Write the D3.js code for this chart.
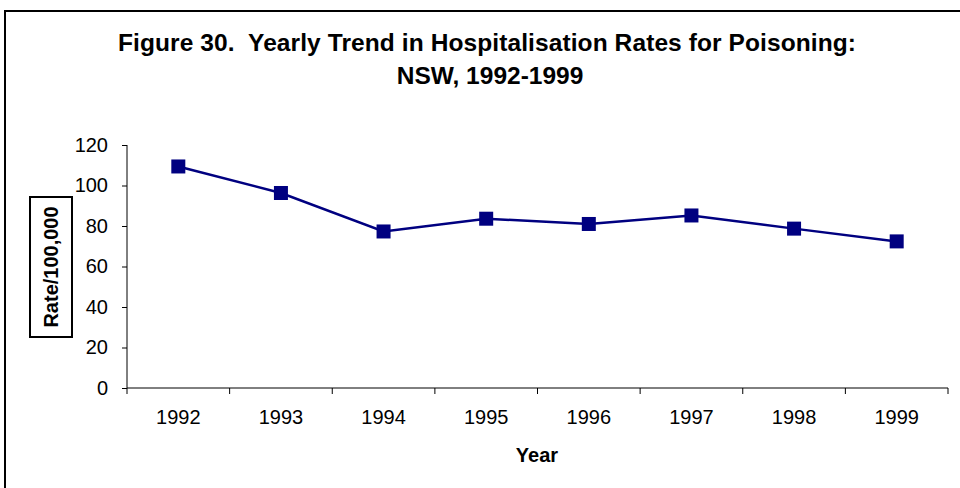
<!DOCTYPE html>
<html lang="en">
<head>
<meta charset="UTF-8">
<title>Figure 30</title>
<style>
  body { margin: 0; background: #fff; }
  text { font-family: Arial, "Liberation Sans", sans-serif; }
</style>
</head>
<body>
<script src="https://cdnjs.cloudflare.com/ajax/libs/d3/7.8.5/d3.min.js"></script>
<script>
let years = ["1992", "1993", "1994", "1995", "1996", "1997", "1998", "1999"]
let rates = [109.4, 96.3, 77.3, 83.6, 81.0, 85.2, 78.7, 72.4]
let yTicks = [0, 20, 40, 60, 80, 100, 120]

let width = 960
let height = 488

let svg = d3.select("body").append("svg")
    .attr("width", width)
    .attr("height", height)

// outer frame
svg.append("rect")
    .attr("x", 5)
    .attr("y", 11)
    .attr("width", 970)
    .attr("height", 500)
    .attr("fill", "none")
    .attr("stroke", "black")
    .attr("stroke-width", 2)

svg.append("text")
    .attr("x", 487)
    .attr("y", 51)
    .attr("text-anchor", "middle")
    .attr("font-weight", "bold")
    .attr("font-size", 24.5)
    .attr("textLength", 738)
    .style("white-space", "pre")
    .text("Figure 30.  Yearly Trend in Hospitalisation Rates for Poisoning:")

svg.append("text")
    .attr("x", 490)
    .attr("y", 84)
    .attr("text-anchor", "middle")
    .attr("font-weight", "bold")
    .attr("font-size", 24.5)
    .text("NSW, 1992-1999")

let pLeft = 127, pRight = 948, pTop = 145, pBottom = 388

let x = d3.scaleBand().domain(years).range([pLeft, pRight])
let y = d3.scaleLinear().domain([0, 120]).range([pBottom, pTop])

let xAxis = svg.append("g")
    .attr("transform", `translate(0,${pBottom})`)
    .call(d3.axisBottom(x).tickSize(0).tickPadding(22))
xAxis.select(".domain").attr("stroke", "black").attr("d", `M${pLeft},0H${pRight}`)
xAxis.selectAll("text").attr("font-size", 20).attr("fill", "black").attr("font-family", "Arial, 'Liberation Sans', sans-serif")
// category separators
xAxis.selectAll(".sep")
    .data(years.concat(["end"]))
    .join("line")
    .attr("class", "sep")
    .attr("x1", (d, i) => pLeft + x.step() * i)
    .attr("x2", (d, i) => pLeft + x.step() * i)
    .attr("y1", 0)
    .attr("y2", 6)
    .attr("stroke", "black")

let yAxis = svg.append("g")
    .attr("transform", `translate(${pLeft},0)`)
    .call(d3.axisLeft(y).tickValues(yTicks).tickSize(5).tickPadding(14))
yAxis.select(".domain").attr("d", `M0,${pTop}V${pBottom}`)
yAxis.selectAll("text").attr("font-size", 20).attr("fill", "black").attr("font-family", "Arial, 'Liberation Sans', sans-serif")

let line = d3.line()
    .x((d, i) => x(years[i]) + x.bandwidth() / 2)
    .y(d => y(d))

svg.append("path")
    .datum(rates)
    .attr("d", line)
    .attr("fill", "none")
    .attr("stroke", "#000080")
    .attr("stroke-width", 2.5)

let ms = 14
svg.selectAll(".pt")
    .data(rates)
    .join("rect")
    .attr("class", "pt")
    .attr("x", (d, i) => x(years[i]) + x.bandwidth() / 2 - ms / 2)
    .attr("y", d => y(d) - ms / 2)
    .attr("width", ms)
    .attr("height", ms)
    .attr("fill", "#000080")

// y label in a box
let yl = svg.append("g").attr("transform", "translate(51,267) rotate(-90)")
yl.append("rect")
    .attr("x", -70)
    .attr("y", -21)
    .attr("width", 140)
    .attr("height", 42)
    .attr("fill", "white")
    .attr("stroke", "black")
    .attr("stroke-width", 2)
yl.append("text")
    .attr("text-anchor", "middle")
    .attr("dy", "0.35em")
    .attr("font-weight", "bold")
    .attr("font-size", 20)
    .text("Rate/100,000")

svg.append("text")
    .attr("x", 537)
    .attr("y", 462)
    .attr("text-anchor", "middle")
    .attr("font-weight", "bold")
    .attr("font-size", 20)
    .text("Year")
</script>
</body>
</html>
